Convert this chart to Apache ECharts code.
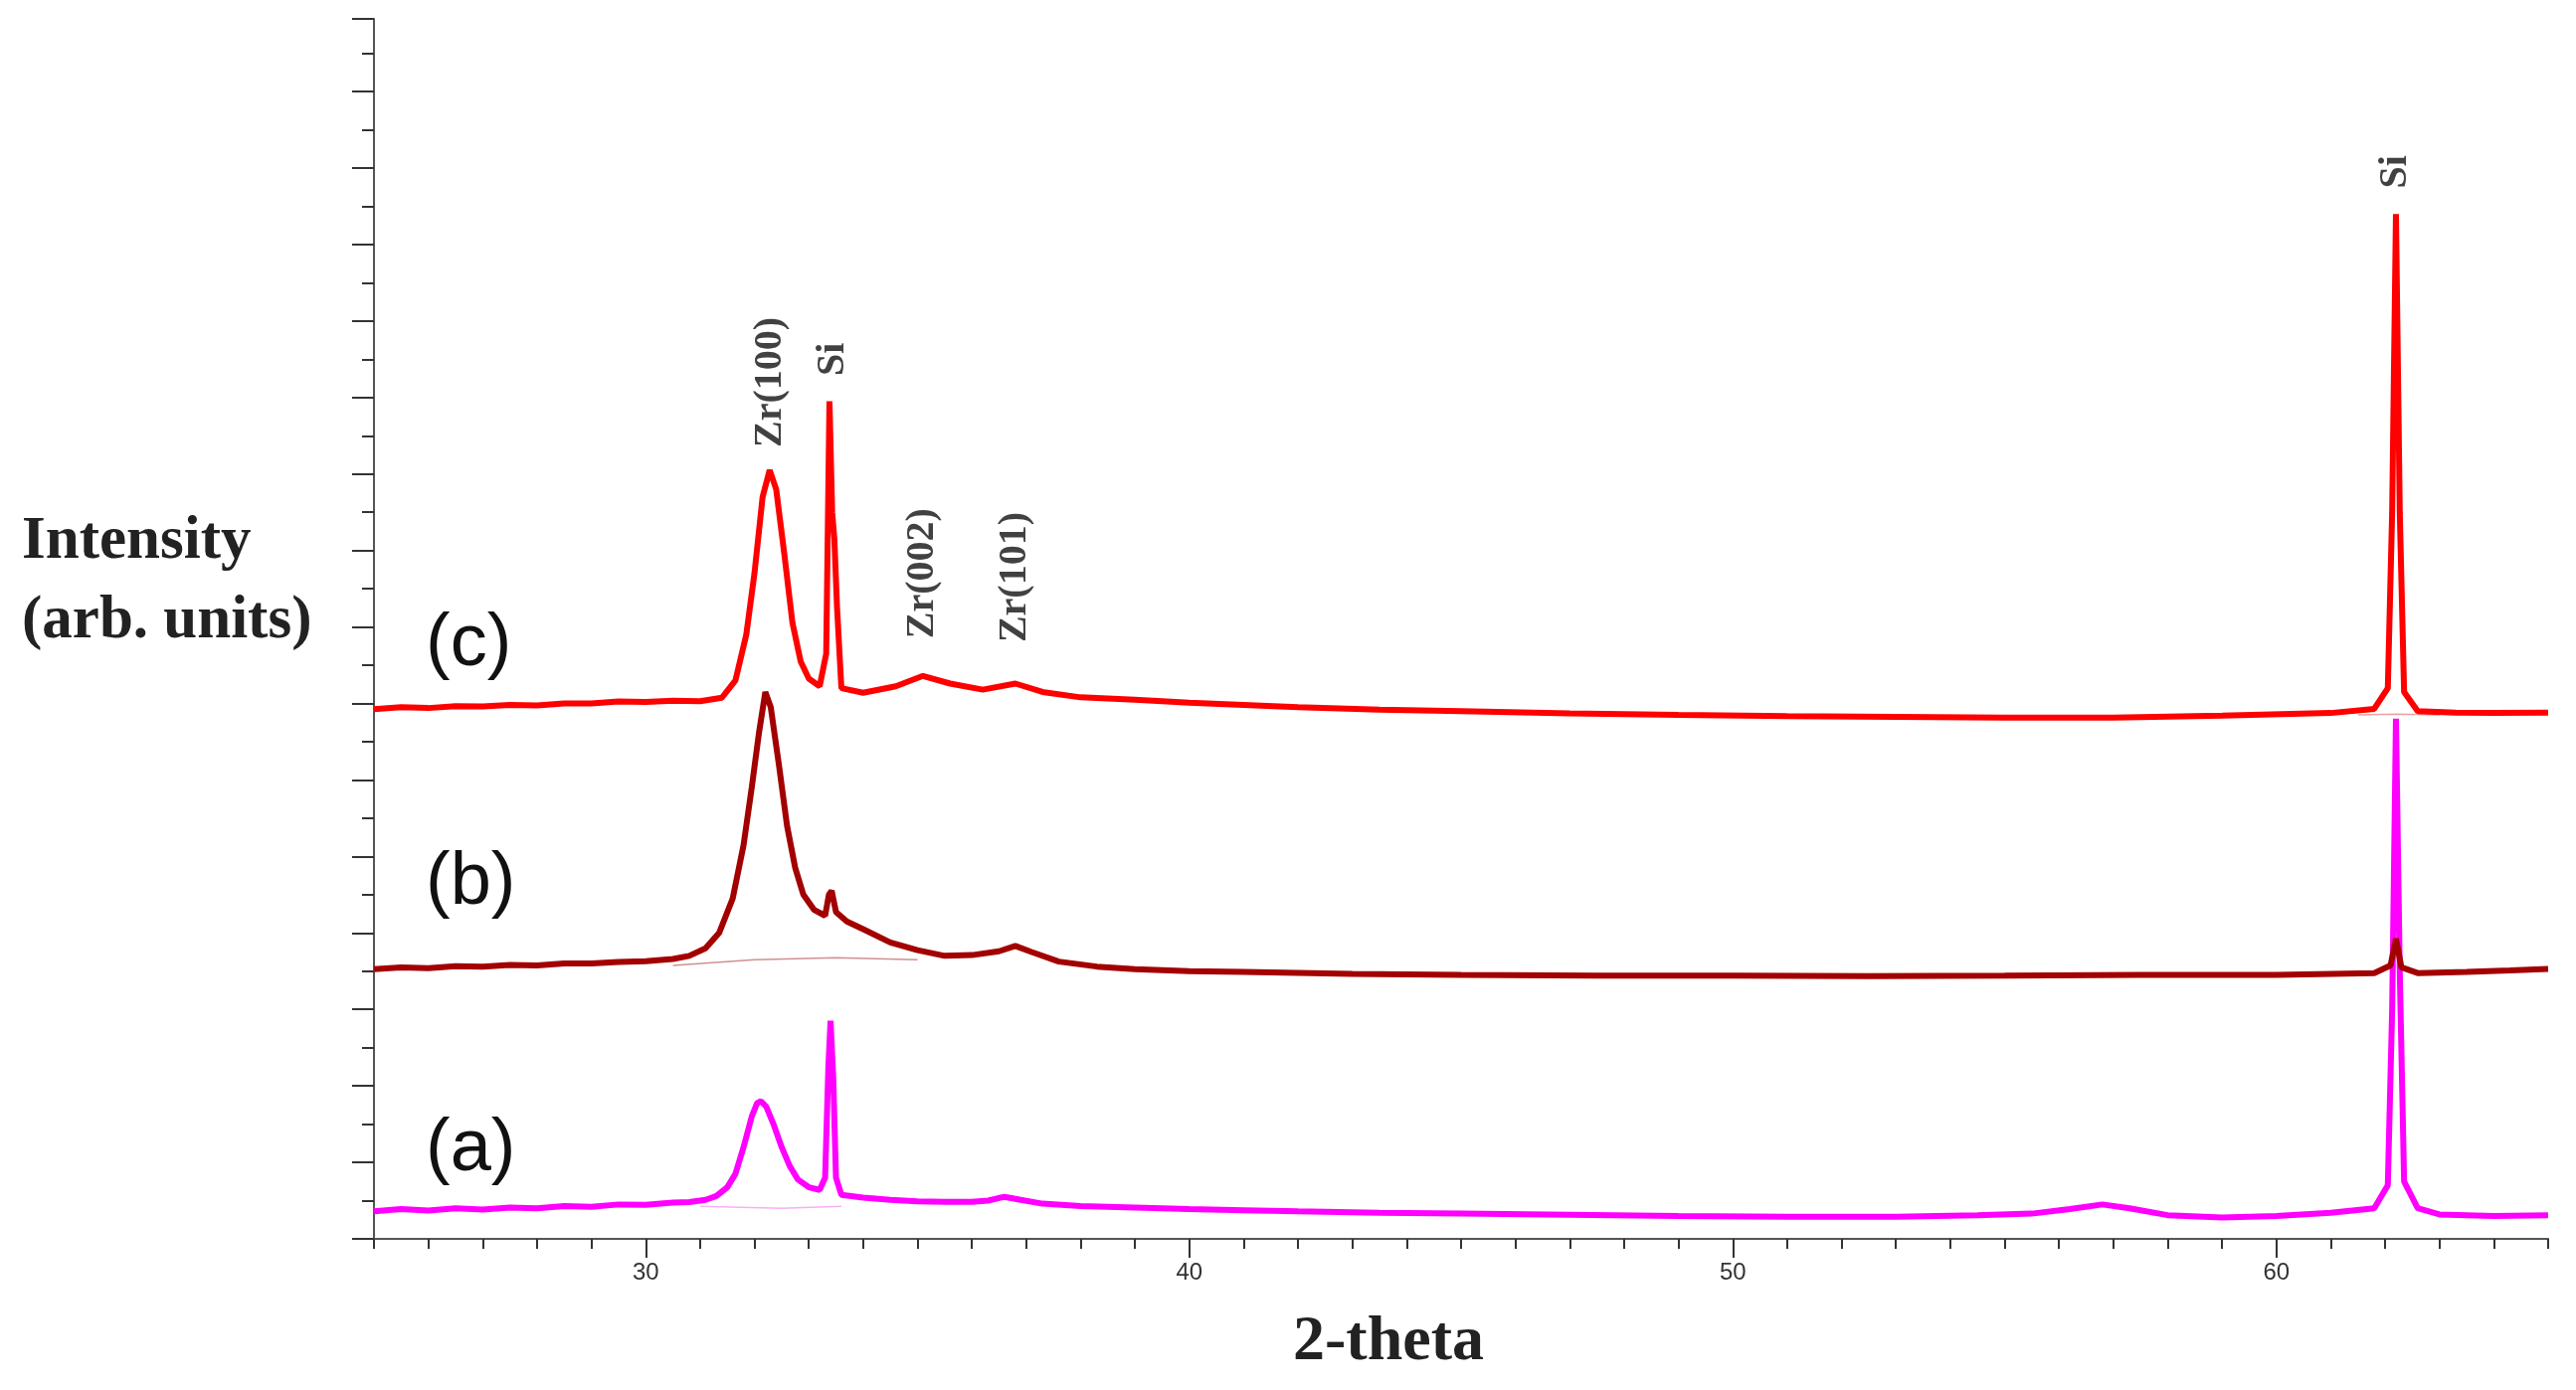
<!DOCTYPE html>
<html><head><meta charset="utf-8">
<script src="https://cdn.jsdelivr.net/npm/echarts@6/dist/echarts.min.js"></script>
<style>html,body{margin:0;padding:0;background:#fff}#c{width:2590px;height:1398px}</style>
</head><body><div id="c"></div>
<script>
const seriesA = [[25,0.72],[25.5,0.78],[26,0.74],[26.5,0.8],[27,0.77],[27.5,0.82],[28,0.8],[28.5,0.86],[29,0.84],[29.5,0.9],[30,0.89],[30.5,0.95],[30.8,0.96],[31.1,1.02],[31.3,1.12],[31.5,1.35],[31.65,1.7],[31.8,2.4],[31.95,3.2],[32.05,3.55],[32.12,3.6],[32.22,3.45],[32.35,3.0],[32.5,2.4],[32.65,1.9],[32.8,1.55],[33.0,1.35],[33.2,1.28],[33.3,1.6],[33.36,4.5],[33.4,5.7],[33.45,4.2],[33.5,1.6],[33.6,1.15],[34,1.08],[34.5,1.02],[35,0.98],[35.5,0.97],[36,0.97],[36.3,1.0],[36.6,1.1],[36.9,1.02],[37.3,0.92],[38,0.86],[39,0.82],[40,0.78],[41,0.75],[42,0.72],[43.5,0.68],[45,0.66],[47,0.63],[49,0.6],[51,0.58],[53,0.58],[54.5,0.62],[55.5,0.66],[56.2,0.78],[56.8,0.9],[57.3,0.8],[58,0.62],[59,0.56],[60,0.6],[61,0.68],[61.8,0.8],[62.05,1.4],[62.13,6],[62.2,13.6],[62.27,7],[62.35,1.5],[62.6,0.8],[63,0.64],[64,0.6],[65,0.62]];
const seriesB = [[25,7.05],[25.5,7.1],[26,7.08],[26.5,7.13],[27,7.12],[27.5,7.16],[28,7.15],[28.5,7.2],[29,7.2],[29.5,7.24],[30,7.26],[30.5,7.32],[30.8,7.4],[31.1,7.6],[31.35,8.0],[31.6,8.9],[31.8,10.3],[31.95,11.8],[32.08,13.2],[32.2,14.3],[32.3,13.9],[32.45,12.4],[32.6,10.8],[32.75,9.7],[32.9,9.0],[33.1,8.6],[33.3,8.45],[33.37,9.0],[33.42,9.1],[33.5,8.55],[33.7,8.3],[34,8.1],[34.5,7.75],[35,7.55],[35.5,7.4],[36,7.42],[36.5,7.52],[36.8,7.66],[37.1,7.5],[37.6,7.25],[38.3,7.12],[39,7.05],[40,7.0],[41,6.98],[43,6.93],[45,6.9],[47.5,6.88],[50,6.88],[52.5,6.87],[55,6.88],[57.5,6.9],[60,6.9],[61.8,6.95],[62.1,7.15],[62.2,7.85],[62.3,7.1],[62.6,6.95],[63.5,6.98],[64.3,7.02],[65,7.06]];
const seriesC = [[25,13.85],[25.5,13.9],[26,13.88],[26.5,13.93],[27,13.92],[27.5,13.96],[28,13.95],[28.5,14.0],[29,14.0],[29.5,14.05],[30,14.04],[30.5,14.07],[31,14.06],[31.4,14.15],[31.65,14.6],[31.85,15.8],[32.0,17.4],[32.15,19.4],[32.28,20.1],[32.4,19.6],[32.55,17.9],[32.7,16.1],[32.85,15.1],[33.0,14.65],[33.2,14.45],[33.32,15.3],[33.38,21.9],[33.43,19.0],[33.47,18.3],[33.52,16.5],[33.6,14.4],[34,14.28],[34.6,14.45],[35.1,14.72],[35.6,14.52],[36.2,14.36],[36.8,14.52],[37.3,14.3],[38,14.16],[39,14.1],[40,14.02],[41,13.96],[42,13.9],[43.5,13.84],[45,13.8],[47,13.74],[49,13.7],[51,13.67],[53,13.65],[55,13.63],[57,13.63],[59,13.68],[61,13.75],[61.8,13.86],[62.05,14.4],[62.13,19],[62.2,26.8],[62.27,19],[62.35,14.3],[62.6,13.8],[63.3,13.76],[64,13.75],[65,13.76]];
const bgA = [[31.0,0.85],[32.5,0.8],[33.6,0.85]];
const bgB = [[30.5,7.15],[32.0,7.3],[33.5,7.35],[35.0,7.3]];
const bgC = [[61.5,13.7],[62.2,13.72],[63,13.7]];
const xLabels = [30,40,50,60];
const peakLabels = [
  {text:'Zr(100)', x:32.3, y:22.4},
  {text:'Si', x:33.45, y:23.0},
  {text:'Zr(002)', x:35.1, y:17.4},
  {text:'Zr(101)', x:36.8, y:17.3},
  {text:'Si', x:62.2, y:27.9}
];
const curveNames = ['(c)','(b)','(a)'];

const chart = echarts.init(document.getElementById('c'));
const axisLineStyle = {color:'#555', width:2};
const lineSeries = (data, color, w, z) => ({type:'line', data, showSymbol:false, symbol:'none', lineStyle:{color, width:w}, z, animation:false});
chart.setOption({
  backgroundColor:'#fff',
  grid:{left:376, right:28, top:19, bottom:152},
  xAxis:[
    {type:'value', min:25, max:65, interval:1, position:'bottom',
     axisLine:{show:true, lineStyle:axisLineStyle}, splitLine:{show:false},
     axisTick:{show:true, length:10, lineStyle:{color:'#333', width:2}},
     axisLabel:{customValues:xLabels, fontFamily:'Liberation Sans Narrow, Liberation Sans, Arial', fontSize:24, color:'#333', margin:22}},
    {type:'value', min:25, max:65, position:'bottom', gridIndex:0,
     axisLine:{show:false}, splitLine:{show:false}, axisLabel:{show:false},
     axisTick:{show:true, customValues:xLabels, length:19, lineStyle:{color:'#333', width:2}}}
  ],
  yAxis:{type:'value', min:0, max:31.9, interval:2,
    axisLine:{show:true, lineStyle:axisLineStyle}, splitLine:{show:false},
    axisTick:{show:true, length:22, lineStyle:{color:'#333', width:2}},
    minorTick:{show:true, splitNumber:2, length:12, lineStyle:{color:'#333', width:2}},
    axisLabel:{show:false}},
  series:[
    lineSeries(bgA,'#f7b0f7',1.5,1),
    lineSeries(bgB,'#d09090',1.5,1),
    lineSeries(bgC,'#f0a0a0',1.5,1),
    lineSeries(seriesA,'#ff00ff',6,3),
    lineSeries(seriesB,'#a30000',6,4),
    lineSeries(seriesC,'#ff0000',6,5),
    {type:'scatter', symbolSize:0, z:10, animation:false,
     data:peakLabels.map(p=>({value:[p.x,p.y], name:p.text})),
     label:{show:true, formatter:'{b}', rotate:90, position:'inside',
       fontFamily:'Liberation Serif, DejaVu Serif, serif', fontWeight:'bold', fontSize:40, color:'#111'}}
  ],
  graphic:[
    {type:'text', left:22, top:505, style:{text:'Intensity\n(arb. units)', font:'bold 61px "Liberation Serif", "DejaVu Serif", serif', fill:'#222', lineHeight:80}},
    {type:'text', left:1300, top:1318, style:{text:'2-theta', font:'bold 64px "Liberation Serif", "DejaVu Serif", serif', fill:'#222'}},
    {type:'text', left:428, top:612, style:{text:curveNames[0], font:'74px "Liberation Sans", Arial, sans-serif', fill:'#111'}},
    {type:'text', left:428, top:852, style:{text:curveNames[1], font:'74px "Liberation Sans", Arial, sans-serif', fill:'#111'}},
    {type:'text', left:428, top:1120, style:{text:curveNames[2], font:'74px "Liberation Sans", Arial, sans-serif', fill:'#111'}}
  ]
});
</script></body></html>
